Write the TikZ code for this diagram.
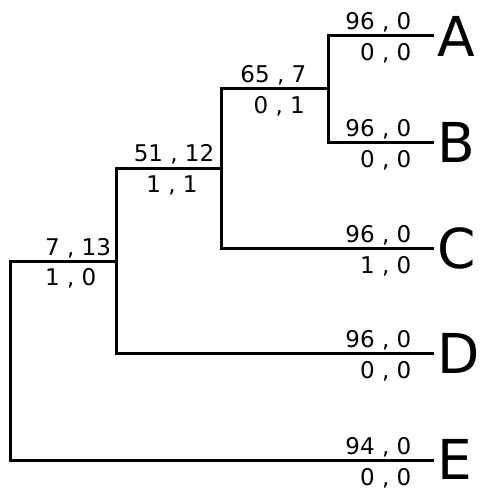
\documentclass[tikz,border=0pt]{standalone}
\usepackage{fontspec}
\setmainfont{DejaVu Sans}
\begin{document}
\begin{tikzpicture}[x=1pt,y=-1pt,
  edge/.style={line width=3pt,line cap=rect,line join=miter},
  lab/.style={inner sep=0pt,font=\fontsize{23}{27}\selectfont},
  leafname/.style={inner sep=0pt,anchor=base west,font=\fontsize{55}{60}\selectfont}]
\useasboundingbox (0,0) rectangle (480,491);
% internal nodes
\coordinate (R) at (10,261);
\coordinate (X) at (116,261);
\coordinate (Y) at (221,168);
\coordinate (Z) at (328,88);
% leaf ends
\coordinate (a) at (432,35);
\coordinate (b) at (432,142);
\coordinate (c) at (432,248);
\coordinate (d) at (432,353);
\coordinate (e) at (432,460);
% leaf names
\node[leafname] (A) at (437,56) {A};
\node[leafname] (B) at (437,162) {B};
\node[leafname] (C) at (437,268) {C};
\node[leafname] (D) at (437,373) {D};
\node[leafname] (E) at (437,479) {E};
% edges
\draw[edge] (R) -- (X);
\draw[edge] (R) |- (e);
\draw[edge] (X) |- (Y);
\draw[edge] (X) |- (d);
\draw[edge] (Y) |- (Z);
\draw[edge] (Y) |- (c);
\draw[edge] (Z) |- (a);
\draw[edge] (Z) |- (b);
% labels
\node[lab,anchor=base east] (la1) at (411.5,29) {96 , 0};
\node[lab,anchor=base east] (la2) at (411.5,60) {0 , 0};
\node[lab,anchor=base east] (lb1) at (411.5,136) {96 , 0};
\node[lab,anchor=base east] (lb2) at (411.5,167) {0 , 0};
\node[lab,anchor=base east] (lc1) at (411.5,242) {96 , 0};
\node[lab,anchor=base east] (lc2) at (411.5,273) {1 , 0};
\node[lab,anchor=base east] (ld1) at (411.5,347) {96 , 0};
\node[lab,anchor=base east] (ld2) at (411.5,378) {0 , 0};
\node[lab,anchor=base east] (le1) at (411.5,454) {94 , 0};
\node[lab,anchor=base east] (le2) at (411.5,485) {0 , 0};
\node[lab,anchor=base east] (lz1) at (306.5,82) {65 , 7};
\node[lab,anchor=base east] (lz2) at (305,113) {0 , 1};
\node[lab,anchor=base] (ly1) at (174,161) {51 , 12};
\node[lab,anchor=base] (ly2) at (172,192) {1 , 1};
\node[lab,anchor=base west] (lx1) at (45,255) {7 , 13};
\node[lab,anchor=base west] (lx2) at (45,285) {1 , 0};
\end{tikzpicture}
\end{document}
